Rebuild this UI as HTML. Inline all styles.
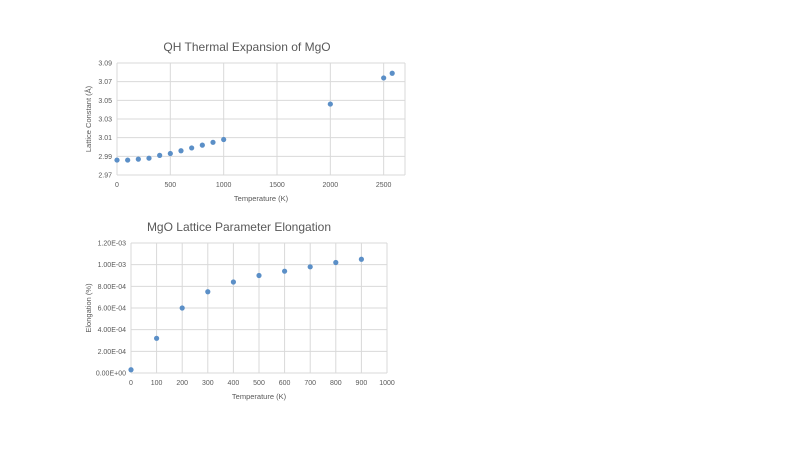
<!DOCTYPE html>
<html><head><meta charset="utf-8"><style>
body{margin:0;background:#fff;width:800px;height:450px;overflow:hidden;font-family:"Liberation Sans",sans-serif}
text{font-family:"Liberation Sans",sans-serif}
</style></head><body>
<svg id="svg" width="800" height="450"></svg>
<script>
const t1 = [0,100,200,300,400,500,600,700,800,900,1000,2000,2500,2580];
const a1 = [2.986,2.986,2.987,2.988,2.991,2.993,2.996,2.999,3.002,3.005,3.008,3.046,3.074,3.079];
const xt1 = [0,500,1000,1500,2000,2500];
const yt1 = [2.97,2.99,3.01,3.03,3.05,3.07,3.09];
const t2 = [0,100,200,300,400,500,600,700,800,900];
const e2 = [0.00003,0.00032,0.0006,0.00075,0.00084,0.0009,0.00094,0.00098,0.00102,0.00105];
const xt2 = [0,100,200,300,400,500,600,700,800,900,1000];
const yt2 = [0,0.0002,0.0004,0.0006,0.0008,0.001,0.0012];
const yl2 = ["0.00E+00","2.00E-04","4.00E-04","6.00E-04","8.00E-04","1.00E-03","1.20E-03"];
const NS='http://www.w3.org/2000/svg', svg=document.getElementById('svg');
function mk(tag,at,txt){const e=document.createElementNS(NS,tag);for(const k in at)e.setAttribute(k,at[k]);if(txt!==undefined)e.textContent=txt;svg.appendChild(e);return e;}
function chart(o){
  const x=v=>o.x0+(v-o.xmin)/(o.xmax-o.xmin)*(o.x1-o.x0);
  const y=v=>o.y0-(v-o.ymin)/(o.ymax-o.ymin)*(o.y0-o.y1);
  o.xt.forEach(v=>{let l=mk('line',{x1:x(v),x2:x(v),y1:o.y1,y2:o.y0,stroke:'#d9d9d9','stroke-width':1});
    
    let t=mk('text',{x:x(v),y:o.y0+12,'font-size':7,fill:'#595959','text-anchor':'middle'},v);
    });
  if(o.rightEdge){let l=mk('line',{x1:o.x1,x2:o.x1,y1:o.y1,y2:o.y0,stroke:'#d9d9d9'});}
  o.yt.forEach((v,i)=>{let l=mk('line',{x1:o.x0,x2:o.x1,y1:y(v),y2:y(v),stroke:'#d9d9d9','stroke-width':1});
    
    let t=mk('text',{x:o.x0-5,y:y(v)+2.5,'font-size':7,fill:'#595959','text-anchor':'end'},o.yl?o.yl[i]:v.toFixed(2));
    });
  o.xs.forEach((v,i)=>{let c=mk('circle',{cx:x(v),cy:y(o.ys[i]),r:2.6,fill:'#5b8fc7'});
    });
  let t=mk('text',{x:o.tx,y:o.ty,'font-size':12,fill:'#595959','text-anchor':'middle'},o.title);
  
  t=mk('text',{x:(o.x0+o.x1)/2,y:o.y0+26,'font-size':7.5,fill:'#595959','text-anchor':'middle'},'Temperature  (K)');
  
  const cy=(o.y0+o.y1)/2;
  t=mk('text',{x:o.ylx,y:cy,'font-size':7.5,fill:'#595959','text-anchor':'middle',transform:`rotate(-90 ${o.ylx} ${cy})`},o.ytitle);
  
}
chart({x0:117,x1:405,y0:175,y1:63,xmin:0,xmax:2700,ymin:2.97,ymax:3.09,xt:xt1,yt:yt1,xs:t1,ys:a1,title:'QH Thermal Expansion of MgO',tx:247,ty:51,ytitle:'Lattice  Constant (Å)',ylx:91,rightEdge:true});
chart({x0:131,x1:387,y0:373,y1:243,xmin:0,xmax:1000,ymin:0,ymax:0.0012,xt:xt2,yt:yt2,yl:yl2,xs:t2,ys:e2,title:'MgO Lattice Parameter Elongation',tx:239,ty:231,ytitle:'Elongation (%)',ylx:91});
</script>
</body></html>
